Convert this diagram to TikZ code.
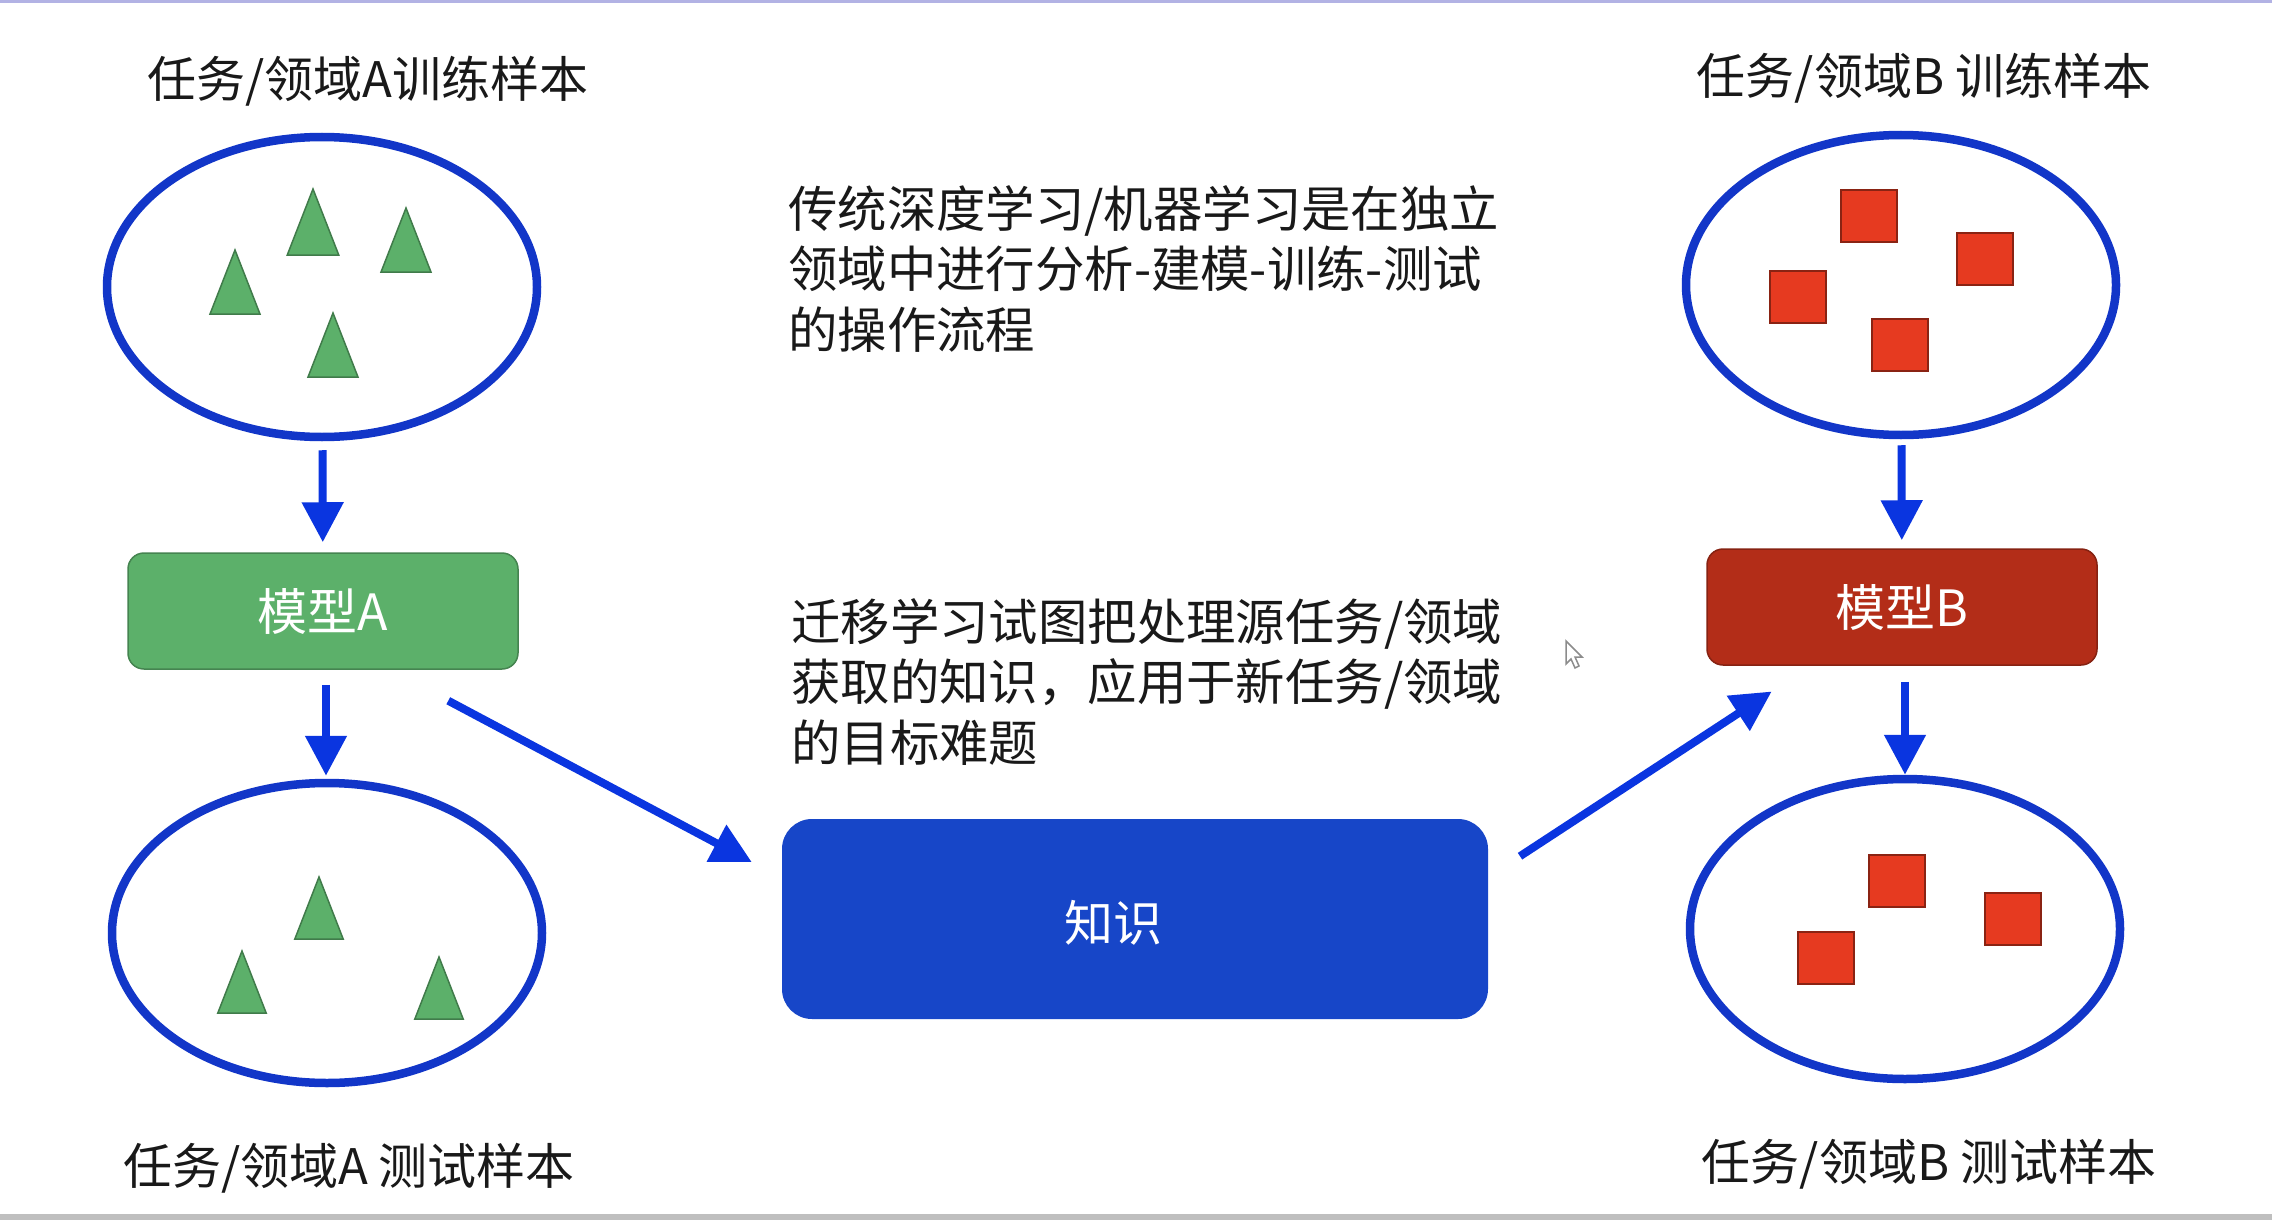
\documentclass[tikz,border=0pt]{standalone}
\usepackage{fontspec}
\setmainfont{Noto Sans CJK SC}
\usepackage{tikz}
\usetikzlibrary{arrows.meta}
\usetikzlibrary{shapes.geometric}

\definecolor{ringblue}{HTML}{1236C8}
\definecolor{arrowblue}{HTML}{0A35E0}
\definecolor{leafgreen}{HTML}{5CB06A}
\definecolor{brickred}{HTML}{B32D18}
\definecolor{boxblue}{HTML}{1746C8}
\definecolor{squarered}{HTML}{E63A20}

\begin{document}
\begin{tikzpicture}[x=1pt,y=-1pt,
    ring/.style={draw=ringblue,line width=8.5pt,ellipse,minimum width=430pt,minimum height=300pt},
    model/.style={rounded corners=16pt,minimum width=390pt,minimum height=116pt,text=white,font=\fontsize{50}{60}\selectfont},
    caption/.style={text=black!90,font=\fontsize{49}{59}\selectfont},
    para/.style={anchor=north west,inner sep=0pt,align=left,text=black!90,font=\fontsize{49.4}{60.5}\selectfont},
    flow/.style={draw=arrowblue,line width=8pt,-{Triangle[length=40pt,width=40pt]}},
    leaf/.style={fill=leafgreen,draw=leafgreen!70!black,line width=1.5pt},
    block/.style={fill=squarered,draw=squarered!60!black,line width=1.5pt}]
  \useasboundingbox (0,0) rectangle (2272,1220);
  \fill[white] (0,0) rectangle (2272,1220);
  \fill[black!35!blue!30!white] (0,0) rectangle (2272,3);
  \fill[black!25] (0,1214) rectangle (2272,1220);

  \node[caption] (capTrainA) at (368,81) {任务/领域A训练样本};
  \node[caption] (capTestA) at (349,1168) {任务/领域A 测试样本};
  \node[caption] (capTrainB) at (1924,78) {任务/领域B 训练样本};
  \node[caption] (capTestB) at (1929,1164) {任务/领域B 测试样本};

  \node[ring] (trainA) at (322,287) {};
  \node[ring] (testA) at (327,933) {};
  \node[ring] (trainB) at (1901,285) {};
  \node[ring] (testB) at (1905,929) {};

  \node[model,fill=leafgreen,draw=leafgreen!75!black,line width=1.5pt] (modelA) at (323,611) {模型A};
  \node[model,fill=brickred,draw=brickred!75!black,line width=1.5pt] (modelB) at (1902,607) {模型B};
  \node[fill=boxblue,rounded corners=30pt,minimum width=706pt,minimum height=200pt] (know) at (1135,919) {};
  \node[text=white,font=\fontsize{49}{59}\selectfont] (knowText) at (1113,923) {知识};

  \node[para] (textOld) at (788,185) {传统深度学习/机器学习是在独立\\领域中进行分析-建模-训练-测试\\的操作流程};
  \node[para] (textNew) at (791,598) {迁移学习试图把处理源任务/领域\\获取的知识，应用于新任务/领域\\的目标难题};

  \foreach \x/\y/\h in {313/255/66,406/272/64,235/314/64,333/377/64,319/939/62,242/1013/62,439/1019/62}
    \draw[leaf] (\x-0.39*\h,\y) -- (\x,\y-\h) -- (\x+0.39*\h,\y) -- cycle;
  \foreach \x/\y in {1869/216,1985/259,1798/297,1900/345,1897/881,2013/919,1826/958}
    \draw[block] (\x-28,\y-26) rectangle (\x+28,\y+26);

  \draw[flow,shorten <=9pt,shorten >=10pt] (trainA) -- (modelA);
  \draw[flow,shorten <=15pt,shorten >=3pt] ([xshift=3pt]modelA.south) -- ([xshift=-1pt]testA.north);
  \draw[flow,shorten <=6pt,shorten >=8pt] (trainB) -- (modelB);
  \draw[flow,shorten <=16pt,shorten >=0pt] ([xshift=3pt]modelB.south) -- (testB.north);
  \draw[flow,shorten <=66pt,shorten >=34pt] ([xshift=67pt]modelA.south) -- ([yshift=41pt]know.west);
  \draw[flow,shorten <=38pt,shorten >=47pt] ([yshift=42pt]know.east) -- ([xshift=-91pt]modelB.south);

  % pointer left over on the slide
  \draw[fill=white,draw=black!45,line width=1.5pt] (1566,641) -- (1566,664) -- (1571,659) -- (1575,668) -- (1579,666) -- (1575,657) -- (1582,657) -- cycle;
\end{tikzpicture}
\end{document}
